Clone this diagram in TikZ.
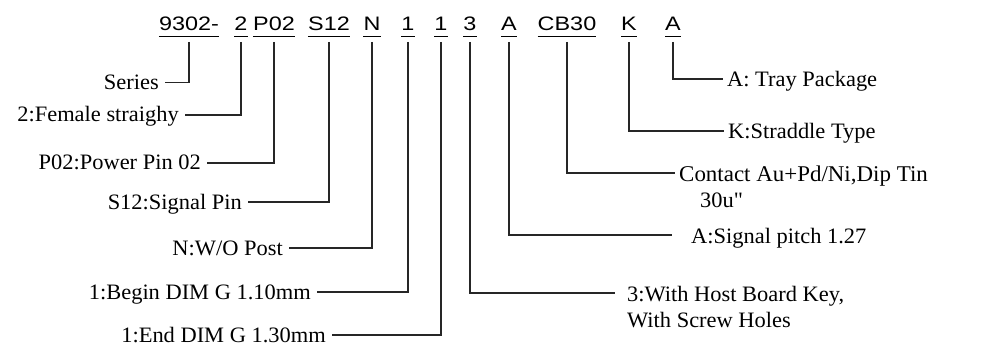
\documentclass[tikz,border=0pt]{standalone}
\usepackage{fontspec}
\newfontfamily\codefont[FakeStretch=1.2]{Liberation Sans}
\newfontfamily\labelfont[FakeStretch=1.02]{Liberation Serif}

\begin{document}
\begin{tikzpicture}[
        x=1pt, y=-1pt,
        code/.style={font=\codefont\fontsize{19.5}{20}\selectfont, anchor=base,
            inner xsep=0pt, inner ysep=10.7pt, text depth=0pt,
            append after command={([yshift=5.4pt]\tikzlastnode.south west)
                edge[uline] ([yshift=5.4pt]\tikzlastnode.south east)}},
        uline/.style={line width=1.2pt},
        lbl/.style={font=\labelfont\fontsize{22}{26}\selectfont,
            inner ysep=0pt, text height=16pt, text depth=0pt},
        lbl left/.style={lbl, anchor=east, inner xsep=6pt, text height=14pt},
        lbl right/.style={lbl, anchor=west, inner xsep=4pt},
        lead/.style={draw=black!85, line width=1.1pt}
    ]
        \useasboundingbox (0,0) rectangle (988,350);

        % part number
        \node [code] (series) at (189,31) {9302-};
        \node [code] (gender) at (241,31) {2};
        \node [code] (power) at (274,31) {P02};
        \node [code] (signal) at (329,31) {S12};
        \node [code] (post) at (372,31) {N};
        \node [code] (begin) at (408,31) {1};
        \node [code] (end) at (441,31) {1};
        \node [code] (key) at (470,31) {3};
        \node [code] (pitch) at (509,31) {A};
        \node [code] (plating) at (567,31) {CB30};
        \node [code] (straddle) at (629,31) {K};
        \node [code] (pack) at (673,31) {A};

        % left side
        \node [lbl left] (series-l) at (165,82.7) {Series};
        \node [lbl left] (gender-l) at (185,115) {2:Female straighy};
        \node [lbl left] (power-l) at (207,163) {P02:Power Pin 02};
        \node [lbl left] (signal-l) at (248,202) {S12:Signal Pin};
        \node [lbl left] (post-l) at (289,248) {N:W/O Post};
        \node [lbl left] (begin-l) at (317,292) {1:Begin DIM G 1.10mm};
        \node [lbl left] (end-l) at (332,335) {1:End DIM G 1.30mm};

        % right side
        \node [lbl right] (pack-l) at (723,79) {A: Tray Package};
        \node [lbl right] (straddle-l) at (724,131) {K:Straddle Type};
        \node [lbl right, font=\labelfont\fontsize{22.5}{26}\selectfont] (plating-l) at (675,173) {Contact Au+Pd/Ni,Dip Tin};
        \node [lbl right, anchor=base west] (plating-l2) at ([xshift=21pt,yshift=-26pt]plating-l.base west) {30u"};
        \node [lbl right, inner xsep=19pt] (pitch-l) at (672,235) {A:Signal pitch 1.27};
        \node [lbl right, inner xsep=12pt] (key-l) at (615,293) {3:With Host Board Key,};
        \node [lbl right, inner xsep=12pt, anchor=base west] (key-l2) at ([yshift=-26pt]key-l.base west) {With Screw Holes};

        \draw [lead] (series.south) |- (series-l.east);
        \draw [lead] (gender.south) |- (gender-l.east);
        \draw [lead] (power.south) |- (power-l.east);
        \draw [lead] (signal.south) |- (signal-l.east);
        \draw [lead] (post.south) |- (post-l.east);
        \draw [lead] (begin.south) |- (begin-l.east);
        \draw [lead] (end.south) |- (end-l.east);
        \draw [lead] (key.south) |- (key-l.west);
        \draw [lead] (pitch.south) |- (pitch-l.west);
        \draw [lead] (plating.south) |- (plating-l.west);
        \draw [lead] (straddle.south) |- (straddle-l.west);
        \draw [lead] (pack.south) |- (pack-l.west);
    \end{tikzpicture}
\end{document}
